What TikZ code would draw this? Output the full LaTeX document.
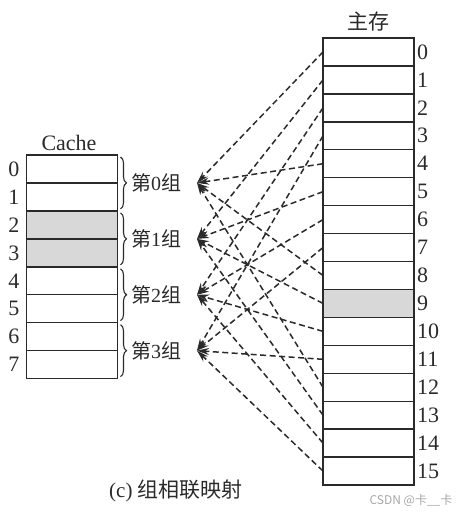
\documentclass[tikz,border=0pt]{standalone}
\usepackage{fontspec}
\setmainfont{Liberation Serif}
\newfontfamily\cjk{Noto Sans CJK SC}
\usetikzlibrary{arrows.meta,decorations.pathreplacing}
\definecolor{ink}{HTML}{2A2A2A}
\definecolor{cellgray}{HTML}{D8D8D8}
\begin{document}
\begin{tikzpicture}[x=1pt,y=-1pt,
  cell/.style={draw=ink,line width=1.4pt,minimum width=91pt,minimum height=27.95pt,inner sep=0pt,outer sep=0pt},
  num/.style={inner sep=0pt,font=\fontsize{22}{22}\selectfont,text=ink},
  grp/.style={inner sep=0pt,font=\fontsize{20}{20}\selectfont,text=ink},
  link/.style={ink,line width=1.5pt,dash pattern=on 6pt off 3.5pt,-{Stealth[length=12pt,width=7pt]}},
  bracestyle/.style={ink,line width=1.1pt,decorate,decoration={brace,amplitude=6pt}}]
\useasboundingbox (0,0) rectangle (473,516);
% main memory
\foreach \j in {0,...,15}{
  \node[cell] (m\j) at (368.5,{38+27.94*(\j+0.5)}) {};
  \node[num,anchor=west] (ml\j) at (417,{38+27.94*(\j+0.5)}) {\j};
}
\fill[cellgray] (m9.north west) rectangle (m9.south east);
\draw[ink,line width=1.4pt] (m9.north west) rectangle (m9.south east);
\node[grp,font=\fontsize{21}{21}\selectfont] (mt) at (368,22) {\cjk 主存};
% cache
\foreach \i in {0,...,7}{
  \node[cell] (c\i) at (72,{155+27.95*(\i+0.5)}) {};
  \node[num] (cl\i) at (14,{155+27.95*(\i+0.5)}) {\i};
}
\foreach \i in {2,3}{
  \fill[cellgray] (c\i.north west) rectangle (c\i.south east);
}
\foreach \i in {0,...,7}{ \draw[ink,line width=1.4pt] (c\i.north west) rectangle (c\i.south east); }
\node[num] (ct) at (69,143) {Cache};
% braces, group labels
\foreach \k in {0,...,3}{
  \draw[bracestyle] ([xshift=3pt,yshift=-2pt]c\the\numexpr2*\k\relax.north east) -- ([xshift=3pt,yshift=2pt]c\the\numexpr2*\k+1\relax.south east);
  \node[grp,anchor=west] (gl\k) at (131,{155+27.95*(2*\k+1)}) {{\cjk 第}\k{\cjk 组}};
  \coordinate (g\k) at (197,{155+27.95*(2*\k+1)});
}
% connectors
\foreach \j in {0,...,15}{
  \pgfmathtruncatemacro{\k}{mod(\j,4)}
  \draw[link] (m\j.west) -- (g\k);
}
\node[grp,font=\fontsize{21}{21}\selectfont] (cap) at (176,491) {(c) {\cjk 组相联映射}};
\node[inner sep=0pt,text=black!35,font=\cjk\fontsize{12}{12}\selectfont] (wm) at (411,500) {CSDN @卡\_\_卡};
\end{tikzpicture}
\end{document}
